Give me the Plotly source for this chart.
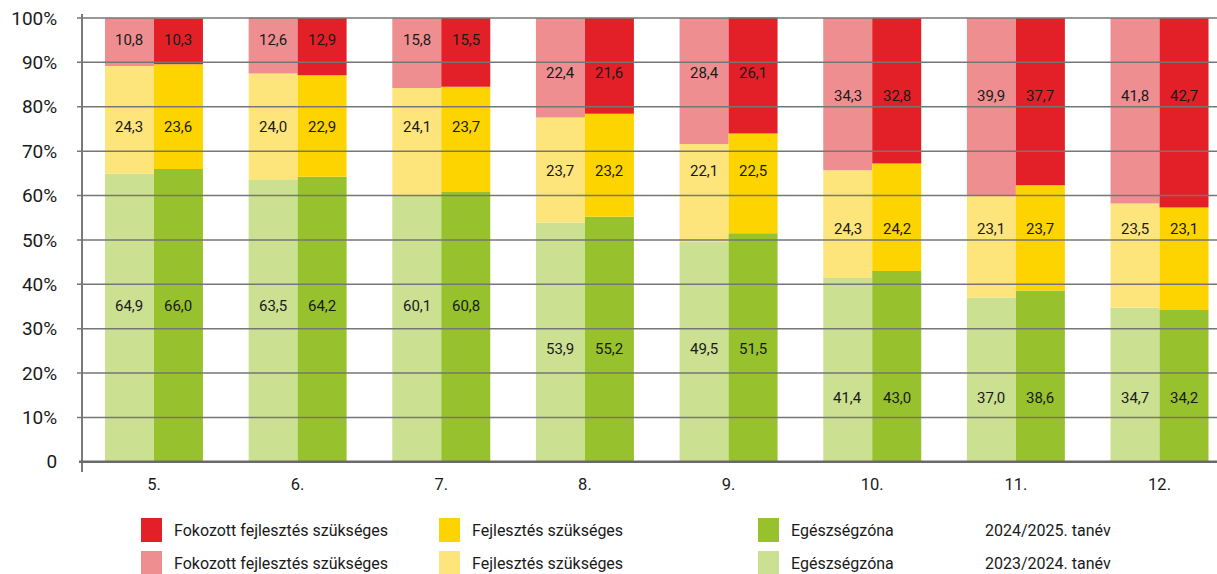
import plotly.graph_objects as go

# Évfolyamok
grades = ["5.", "6.", "7.", "8.", "9.", "10.", "11.", "12."]

# 2023/2024. tanév (%)
egeszseg_2324 = [64.9, 63.5, 60.1, 53.9, 49.5, 41.4, 37.0, 34.7]
fejlesztes_2324 = [24.3, 24.0, 24.1, 23.7, 22.1, 24.3, 23.1, 23.5]
fokozott_2324 = [10.8, 12.6, 15.8, 22.4, 28.4, 34.3, 39.9, 41.8]

# 2024/2025. tanév (%)
egeszseg_2425 = [66.0, 64.2, 60.8, 55.2, 51.5, 43.0, 38.6, 34.2]
fejlesztes_2425 = [23.6, 22.9, 23.7, 23.2, 22.5, 24.2, 23.7, 23.1]
fokozott_2425 = [10.3, 12.9, 15.5, 21.6, 26.1, 32.8, 37.7, 42.7]

tick_vals = [0, 10, 20, 30, 40, 50, 60, 70, 80, 90, 100]
tick_text = ["0", "10%", "20%", "30%", "40%", "50%", "60%", "70%", "80%", "90%", "100%"]

# ---- style ----
W, H = 1217, 574
ML, MR, MT, MB = 83, 0, 14, 102
FONT = "Roboto"
TXT = "#1a1a1a"
GRID = "#767676"
BAR_W = 0.341

COL = {
    "fok_d": "#E32028", "fok_l": "#EE8E90",
    "fej_d": "#FED400", "fej_l": "#FEE57B",
    "egz_d": "#97C22D", "egz_l": "#CCE091",
}

# label heights (% units) for the value labels of each grade: (red, yellow, green)
label_levels = [(95.0, 75.5, 35.2)] * 3 + [(87.6, 65.5, 25.5)] * 2 + [(82.4, 52.5, 14.4)] * 3


def px_x(p):
    return (p - ML) / (W - ML - MR)


def px_y(p):
    return (H - MB - p) / (H - MT - MB)


def fmt(v):
    return f"{v:.1f}".replace(".", ",")


fig = go.Figure()


def add_stack(green, yellow, red, offset, cols):
    base_y = list(green)
    base_r = [g + y for g, y in zip(green, yellow)]
    for vals, base, c in ((green, [0] * len(green), cols[0]),
                          (yellow, base_y, cols[1]),
                          (red, base_r, cols[2])):
        fig.add_trace(go.Bar(
            x=grades, y=vals, base=base, width=BAR_W, offset=offset,
            marker=dict(color=c, line=dict(width=0)),
            showlegend=False, hoverinfo="skip",
        ))


add_stack(egeszseg_2324, fejlesztes_2324, fokozott_2324, -BAR_W,
          (COL["egz_l"], COL["fej_l"], COL["fok_l"]))
add_stack(egeszseg_2425, fejlesztes_2425, fokozott_2425, 0,
          (COL["egz_d"], COL["fej_d"], COL["fok_d"]))

annotations = []
for i in range(len(grades)):
    yr, yy, yg = label_levels[i]
    for dx, vals in ((-BAR_W / 2, (fokozott_2324, fejlesztes_2324, egeszseg_2324)),
                     (BAR_W / 2, (fokozott_2425, fejlesztes_2425, egeszseg_2425))):
        for v, ly in zip(vals, (yr, yy, yg)):
            annotations.append(dict(
                x=i + dx, y=ly, xref="x", yref="y", text=fmt(v[i]),
                showarrow=False, xanchor="center", yanchor="middle",
                font=dict(family=FONT, size=15, color=TXT),
            ))

shapes = []
# gridlines drawn over the bars
for t in tick_vals[1:]:
    shapes.append(dict(type="line", xref="paper", yref="y",
                       x0=px_x(77), x1=1, y0=t, y1=t,
                       line=dict(color=GRID, width=1.5), layer="above"))
# baseline
shapes.append(dict(type="line", xref="paper", yref="y",
                   x0=px_x(79), x1=1, y0=0, y1=0,
                   line=dict(color="#6a6a6a", width=2.5), layer="above"))

# legend
legend_cols = [141, 439, 758]
legend_rows = [(518, 542, 530), (551, 574, 563)]
legend_items = [
    [("fok_d", "Fokozott fejlesztés szükséges"), ("fej_d", "Fejlesztés szükséges"),
     ("egz_d", "Egészségzóna"), (None, "2024/2025. tanév")],
    [("fok_l", "Fokozott fejlesztés szükséges"), ("fej_l", "Fejlesztés szükséges"),
     ("egz_l", "Egészségzóna"), (None, "2023/2024. tanév")],
]
for r, (y0, y1, yc) in enumerate(legend_rows):
    for c, (key, label) in enumerate(legend_items[r]):
        if key is not None:
            x0 = legend_cols[c]
            shapes.append(dict(type="rect", xref="paper", yref="paper",
                               x0=px_x(x0), x1=px_x(x0 + 21),
                               y0=px_y(y1), y1=px_y(y0),
                               fillcolor=COL[key], line=dict(width=0)))
            tx = x0 + 31
        else:
            tx = 983
        annotations.append(dict(
            x=px_x(tx), y=px_y(yc), xref="paper", yref="paper", text=label,
            showarrow=False, xanchor="left", yanchor="middle",
            font=dict(family=FONT, size=16, color=TXT),
        ))

fig.update_layout(
    width=W, height=H,
    margin=dict(l=ML, r=MR, t=MT, b=MB, pad=0),
    barmode="overlay",
    plot_bgcolor="white", paper_bgcolor="white",
    font=dict(family=FONT, color=TXT),
    shapes=shapes, annotations=annotations,
    showlegend=False,
    xaxis=dict(
        type="category", range=[-0.494, 7.40],
        showgrid=False, zeroline=False, showline=False, ticks="",
        tickfont=dict(family=FONT, size=16.5, color=TXT),
        fixedrange=True,
    ),
    yaxis=dict(
        range=[-2.3, 100.9],
        tickvals=tick_vals, ticktext=tick_text,
        showgrid=False, zeroline=False,
        showline=True, linecolor="#7a7a7a", linewidth=2,
        ticks="", ticklabelstandoff=20,
        tickfont=dict(family=FONT, size=19, color=TXT),
        fixedrange=True,
    ),
)

fig.write_html("out.html", config={"displayModeBar": False})
